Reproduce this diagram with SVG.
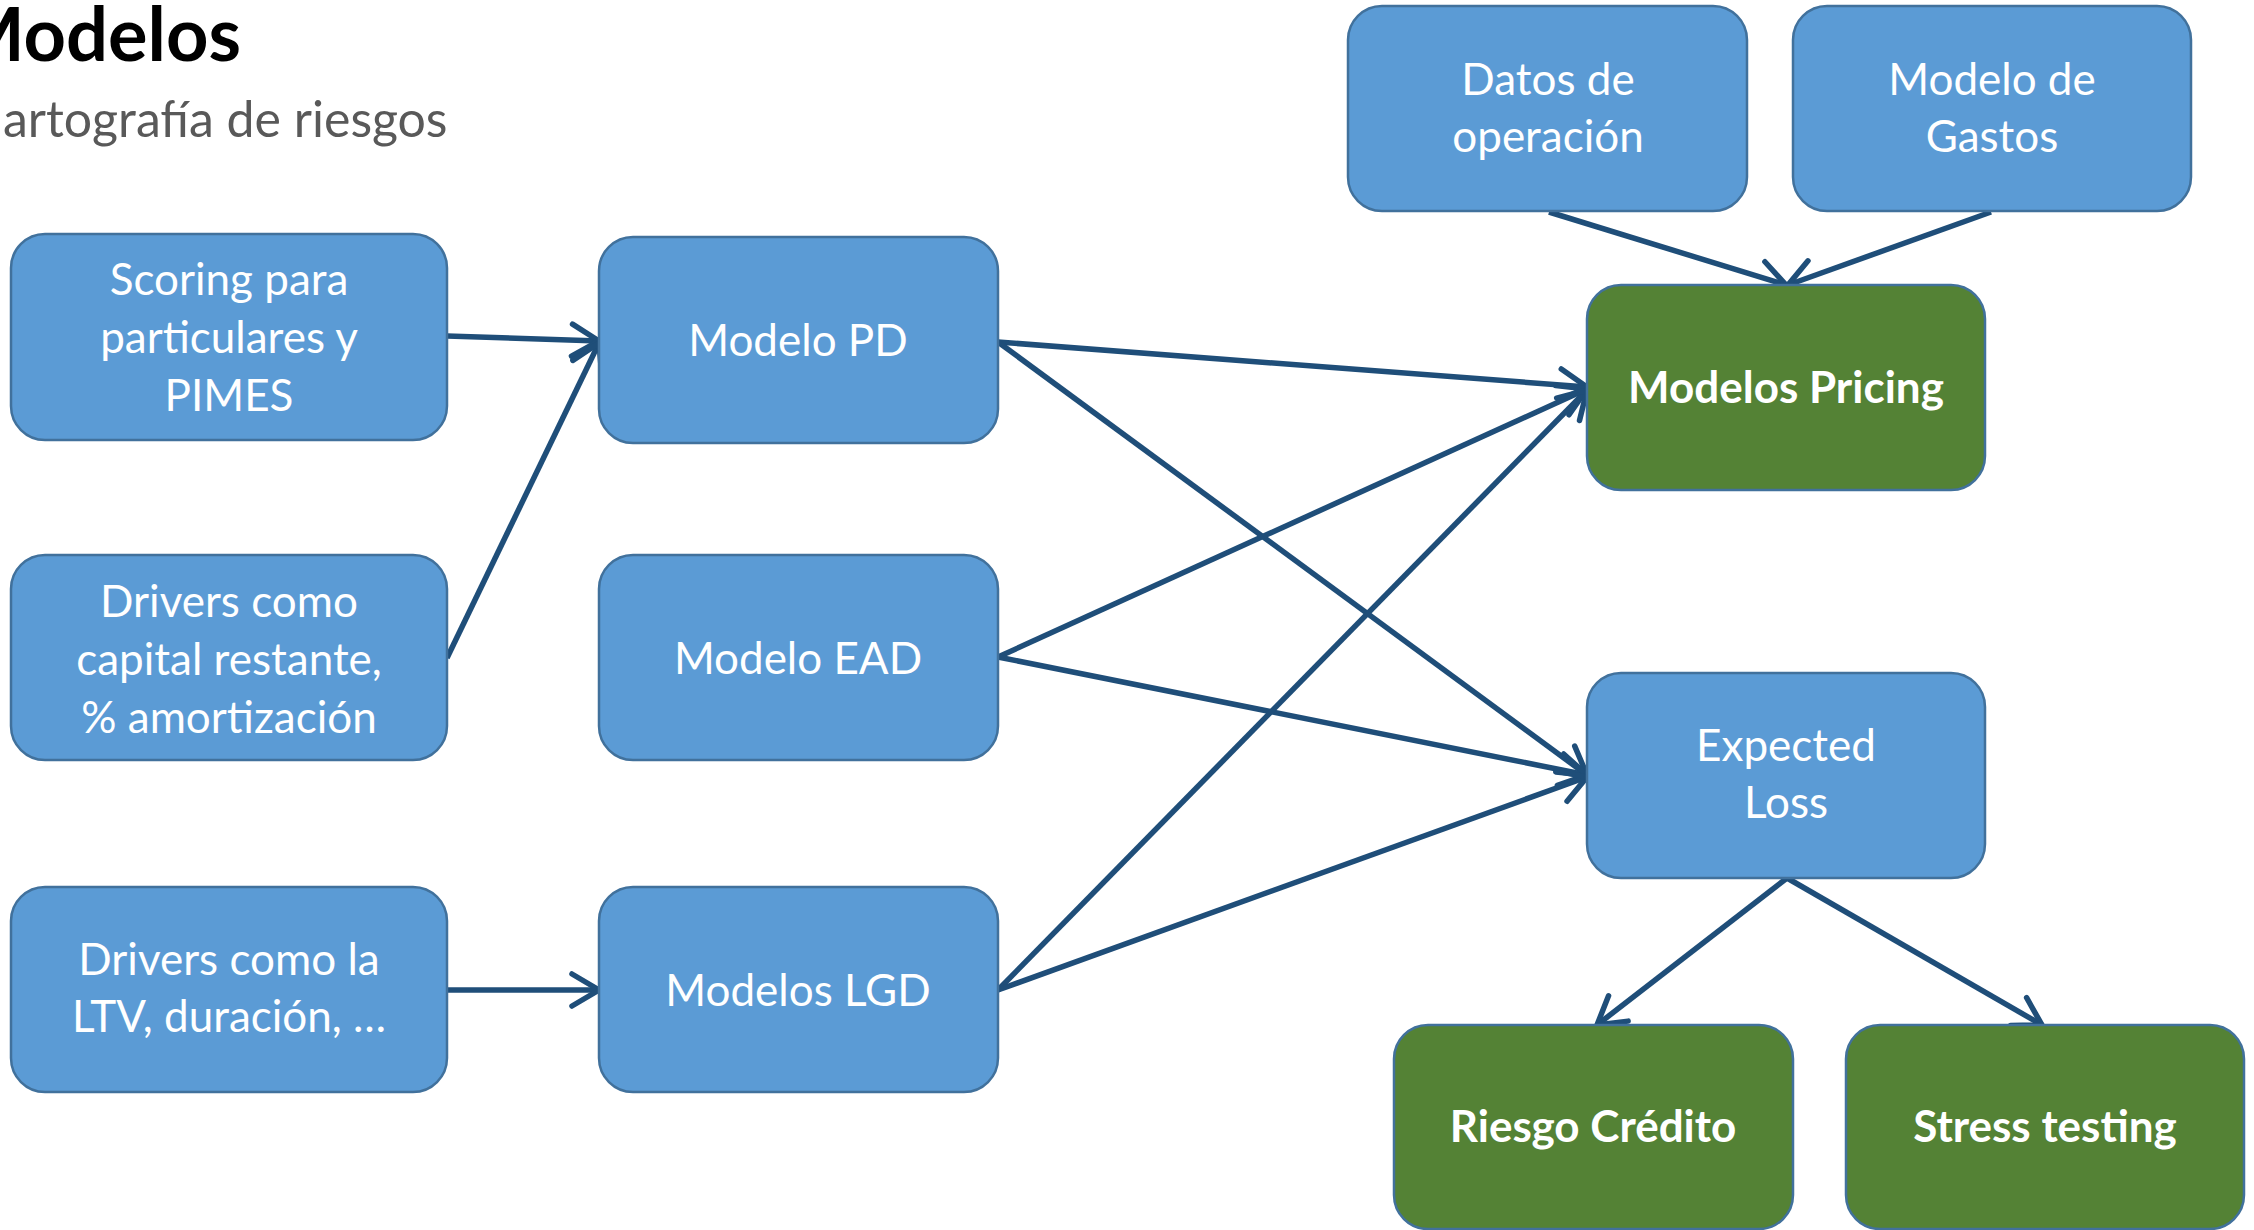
<svg xmlns="http://www.w3.org/2000/svg" width="2254" height="1230" viewBox="0 0 2254 1230">
<style>
.box{fill:#5B9BD5;stroke:#41719C;stroke-width:2.5}
.gbox{fill:#548235;stroke:#41719C;stroke-width:2.5}
.t{font-family:Lato,"Liberation Sans",sans-serif;font-size:44px;fill:#FFFFFF;text-anchor:middle}
.b{font-weight:bold}
.c{fill:none;stroke:#1F4E79;stroke-width:5.5;marker-end:url(#arr)}
</style>
<defs>
<marker id="arr" markerUnits="userSpaceOnUse" markerWidth="50" markerHeight="50" viewBox="0 0 50 50" refX="40" refY="25" orient="auto">
<path d="M13,9 L40,25 L13,41" fill="none" stroke="#1F4E79" stroke-width="5.5" stroke-linecap="round"/>
</marker>
</defs>
<rect width="2254" height="1230" fill="#FFFFFF"/>
<text x="241" y="61" font-family="Lato,'Liberation Sans',sans-serif" font-size="74" font-weight="bold" fill="#000000" text-anchor="end">Modelos</text>
<text x="3" y="137" font-family="Lato,'Liberation Sans',sans-serif" font-size="50" fill="#595959">artografía de riesgos</text>

<g id="connectors">
<line class="c" x1="447" y1="336" x2="599" y2="341"/>
<line class="c" x1="447" y1="658" x2="599" y2="343"/>
<line class="c" x1="447" y1="990" x2="599" y2="990"/>
<line class="c" x1="998" y1="342" x2="1587" y2="387"/>
<line class="c" x1="998" y1="342" x2="1587" y2="775"/>
<line class="c" x1="998" y1="657" x2="1587" y2="389"/>
<line class="c" x1="998" y1="657" x2="1587" y2="775"/>
<line class="c" x1="998" y1="990" x2="1587" y2="390"/>
<line class="c" x1="998" y1="990" x2="1587" y2="777"/>
<line class="c" x1="1549" y1="212" x2="1786" y2="285"/>
<line class="c" x1="1991" y1="212" x2="1788" y2="285"/>
<line class="c" x1="1787" y1="878" x2="1597" y2="1025"/>
<line class="c" x1="1787" y1="878" x2="2042" y2="1025"/>
</g>

<g id="scoring"><rect class="box" x="11" y="234" width="436" height="206" rx="34"/>
<text class="t" x="229" y="295">Scoring para</text><text class="t" x="229" y="353">particulares y</text><text class="t" x="229" y="411">PIMES</text></g>
<g id="drivers-capital"><rect class="box" x="11" y="555" width="436" height="205" rx="34"/>
<text class="t" x="229" y="617">Drivers como</text><text class="t" x="229" y="675">capital restante,</text><text class="t" x="229" y="733">% amortización</text></g>
<g id="drivers-ltv"><rect class="box" x="11" y="887" width="436" height="205" rx="34"/>
<text class="t" x="229" y="975">Drivers como la</text><text class="t" x="229" y="1032">LTV, duración, …</text></g>
<g id="modelo-pd"><rect class="box" x="599" y="237" width="399" height="206" rx="34"/>
<text class="t" x="798" y="356">Modelo PD</text></g>
<g id="modelo-ead"><rect class="box" x="599" y="555" width="399" height="205" rx="34"/>
<text class="t" x="798" y="674">Modelo EAD</text></g>
<g id="modelos-lgd"><rect class="box" x="599" y="887" width="399" height="205" rx="34"/>
<text class="t" x="798" y="1006">Modelos LGD</text></g>
<g id="datos-operacion"><rect class="box" x="1348" y="6" width="399" height="205" rx="34"/>
<text class="t" x="1548" y="95">Datos de</text><text class="t" x="1548" y="152">operación</text></g>
<g id="modelo-gastos"><rect class="box" x="1793" y="6" width="398" height="205" rx="34"/>
<text class="t" x="1992" y="95">Modelo de</text><text class="t" x="1992" y="152">Gastos</text></g>
<g id="modelos-pricing"><rect class="gbox" x="1587" y="285" width="398" height="205" rx="34"/>
<text class="t b" x="1786" y="403">Modelos Pricing</text></g>
<g id="expected-loss"><rect class="box" x="1587" y="673" width="398" height="205" rx="34"/>
<text class="t" x="1786" y="761">Expected</text><text class="t" x="1786" y="818">Loss</text></g>
<g id="riesgo-credito"><rect class="gbox" x="1394" y="1025" width="399" height="204" rx="34"/>
<text class="t b" x="1593" y="1142">Riesgo Crédito</text></g>
<g id="stress-testing"><rect class="gbox" x="1846" y="1025" width="398" height="204" rx="34"/>
<text class="t b" x="2045" y="1142">Stress testing</text></g>
</svg>
